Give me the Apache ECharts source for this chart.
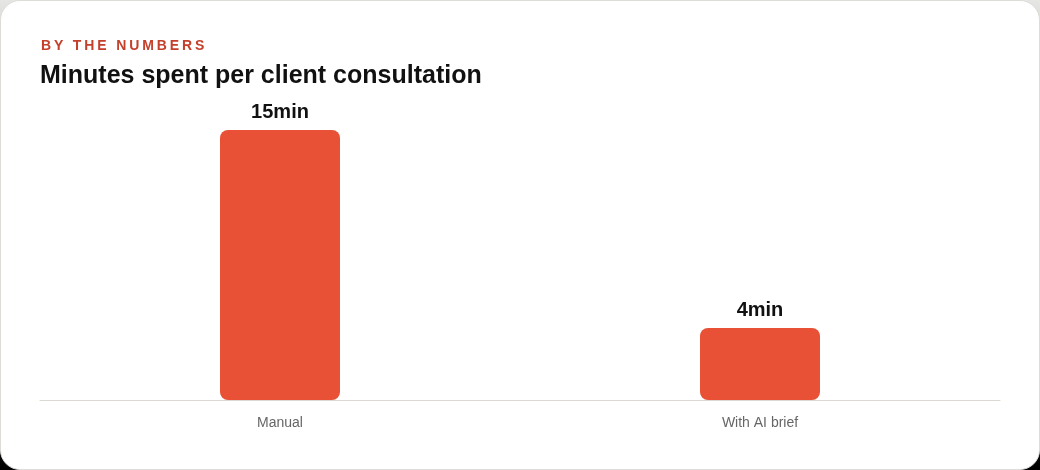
<!DOCTYPE html>
<html>
<head>
    <meta charset="utf-8">
    <title>Minutes per consultation</title>
    <script src="https://cdn.jsdelivr.net/npm/echarts/dist/echarts.min.js"></script>
    <style>
    html, body {
        margin: 0;
        padding: 0;
        width: 1040px;
        height: 470px;
        background: linear-gradient(#e6e6e4, #000);
    }
    .card {
        position: relative;
        width: 1038px;
        height: 468px;
        background: #fff;
        border: 1px solid #dedcd8;
        border-radius: 20px;
        overflow: hidden;
    }
    .kicker {
        position: absolute;
        left: 40px;
        top: 36px;
        font-family: 'Liberation Sans', Arial, sans-serif;
        font-size: 14px;
        line-height: 16px;
        font-weight: bold;
        letter-spacing: 2.9px;
        color: #c4402b;
        z-index: 2;
    }
    #main {
        width: 1038px;
        height: 468px;
    }
    </style>
</head>
<body>
    <div class="card">
        <div class="kicker">BY THE NUMBERS</div>
        <div id="main"></div>
    </div>
    <script type="text/javascript">
        var categories = ['Manual', 'With AI brief'];
        var minutes = [15, 4];
        var valueLabels = ['15min', '4min'];

        var myChart = echarts.init(document.getElementById('main'));
        var option = {
            textStyle: { fontFamily: 'Liberation Sans, Arial, sans-serif' },
            title: {
                text: 'Minutes spent per client consultation',
                left: 34,
                top: 58,
                textStyle: {
                    color: '#111111',
                    fontSize: 25,
                    fontWeight: 'bold',
                    fontFamily: 'Liberation Sans, Arial, sans-serif'
                }
            },
            grid: {
                left: 39,
                right: 39,
                top: 129,
                bottom: 69
            },
            xAxis: {
                type: 'category',
                data: categories,
                axisLine: { lineStyle: { color: '#dcd8d4', width: 1 } },
                axisTick: { show: false },
                axisLabel: {
                    color: '#666666',
                    fontSize: 14,
                    margin: 16
                }
            },
            yAxis: {
                type: 'value',
                min: 0,
                max: 15,
                show: false,
                splitLine: { show: false }
            },
            series: [
                {
                    type: 'bar',
                    data: minutes,
                    barWidth: 120,
                    itemStyle: {
                        color: '#e85135',
                        borderRadius: 8
                    },
                    label: {
                        show: true,
                        position: 'top',
                        distance: 8,
                        color: '#111111',
                        fontSize: 20,
                        fontWeight: 'bold',
                        formatter: function (p) {
                            return valueLabels[p.dataIndex];
                        }
                    }
                }
            ]
        };
        myChart.setOption(option);
    </script>
</body>
</html>
